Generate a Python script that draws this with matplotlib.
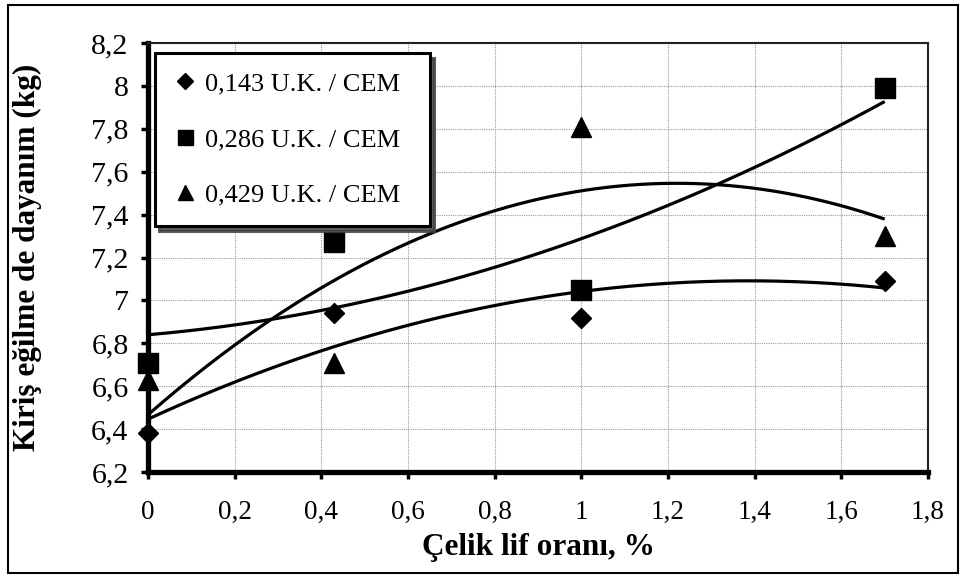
import numpy as np
import matplotlib
matplotlib.use("Agg")
import matplotlib.pyplot as plt
from matplotlib.lines import Line2D
from matplotlib.patches import Rectangle
from matplotlib.ticker import FixedLocator, FuncFormatter

# Steel fibre ratio (%) and beam flexural strength (kg) for three U.K./CEM ratios
fiber_ratio = [0.0, 0.43, 1.0, 1.7]
series_labels = ["0,143 U.K. / CEM", "0,286 U.K. / CEM", "0,429 U.K. / CEM"]
strength_0143 = [6.38, 6.94, 6.92, 7.09]
strength_0286 = [6.71, 7.27, 7.05, 7.99]
strength_0429 = [6.63, 6.71, 7.81, 7.30]

x_ticks = [0, 0.2, 0.4, 0.6, 0.8, 1.0, 1.2, 1.4, 1.6, 1.8]
y_ticks = [6.2, 6.4, 6.6, 6.8, 7.0, 7.2, 7.4, 7.6, 7.8, 8.0, 8.2]

plt.rcParams["font.family"] = ["Liberation Serif", "DejaVu Serif"]

fig = plt.figure(figsize=(9.61, 5.76), dpi=100)
ax = fig.add_axes([0.154, 0.1806, 0.8117, 0.7447])

markers = ["D", "s", "^"]
msizes = [10.2, 14.4, 14.4]
all_series = [strength_0143, strength_0286, strength_0429]

x = np.array(fiber_ratio)
xx = np.linspace(min(fiber_ratio), max(fiber_ratio), 200)
handles = []
for ys, m, ms, lab in zip(all_series, markers, msizes, series_labels):
    ys = np.array(ys)
    # second-order polynomial trend line
    coef = np.polyfit(x, ys, 2)
    ax.plot(xx, np.polyval(coef, xx), color="black", lw=2.3, zorder=3,
            solid_capstyle="butt")
    ax.plot(x, ys, linestyle="none", marker=m, ms=ms, color="black",
            zorder=4, clip_on=False)
    handles.append(Line2D([], [], linestyle="none", marker=m, ms=ms,
                          color="black", label=lab))

ax.set_xlim(0, 1.8)
ax.set_ylim(6.2, 8.2)
ax.xaxis.set_major_locator(FixedLocator(x_ticks))
ax.yaxis.set_major_locator(FixedLocator(y_ticks))
fmt = FuncFormatter(lambda v, p: ("%g" % round(v, 2)).replace(".", ","))
ax.xaxis.set_major_formatter(fmt)
ax.yaxis.set_major_formatter(fmt)

ax.grid(True, color="0.6", linestyle=(0, (1, 1)), linewidth=0.8, zorder=0)
ax.set_axisbelow(True)

for side in ("left", "bottom"):
    ax.spines[side].set_linewidth(3.8)
    ax.spines[side].set_color("black")
for side in ("top", "right"):
    ax.spines[side].set_linewidth(1.5)
    ax.spines[side].set_color("#222222")

ax.tick_params(axis="both", direction="out", length=5, width=2.5,
               color="black")
ax.tick_params(axis="x", pad=15, labelsize=19.5)
ax.tick_params(axis="y", pad=9, labelsize=21.5)

ax.set_xlabel("Çelik lif oranı, %", fontsize=22.5, fontweight="bold",
              labelpad=6)
ax.set_ylabel("Kiriş eğilme de dayanım (kg)", fontsize=22.5,
              fontweight="bold", va="center")
ax.yaxis.set_label_coords(-0.154, 0.5)

leg = ax.legend(handles=handles, loc="upper left",
                bbox_to_anchor=(0.009, 0.59, 0.3526, 0.387), mode="expand",
                borderaxespad=0,
                fontsize=19, handlelength=0.8, handletextpad=0.38,
                borderpad=0.72, labelspacing=1.22, markerscale=0.75,
                fancybox=False, framealpha=1, edgecolor="black",
                shadow={"color": "0.25", "alpha": 0.85, "ox": 3, "oy": -4})
leg.get_frame().set_linewidth(2.2)
leg.set_zorder(6)

# outer frame around the whole figure
fig.patches.append(Rectangle((8 / 961, 3 / 576), 950 / 961, 568 / 576,
                             transform=fig.transFigure, fill=False,
                             edgecolor="black", linewidth=1.5))

fig.savefig("out.png", dpi=100)
